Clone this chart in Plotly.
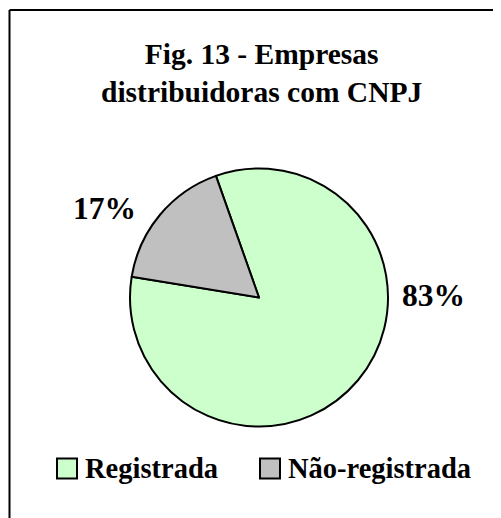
import plotly.graph_objects as go

# Data
labels = ["Registrada", "Não-registrada"]
values = [83, 17]
colors = ["#CCFFCC", "#C0C0C0"]
title_lines = ["Fig. 13 - Empresas", "distribuidoras com CNPJ"]

W, H = 493, 510
FONT = "Liberation Serif"
OFF = 8  # page body margin

cx, cy, r = 259 - OFF, 297.5 - OFF, 129

fig = go.Figure()
fig.add_trace(go.Pie(
    labels=labels,
    values=values,
    sort=False,
    direction="clockwise",
    rotation=-19.5,
    marker=dict(colors=colors, line=dict(color="black", width=2)),
    textinfo="none",
    hoverinfo="label+percent",
    showlegend=False,
    domain=dict(x=[(cx - r) / W, (cx + r) / W], y=[1 - (cy + r) / H, 1 - (cy - r) / H]),
))

total = sum(values)
pct = [f"{round(v / total * 100)}%" for v in values]
label_pos = [(433 - OFF, 296 - OFF - 1), (104 - OFF, 210 - OFF - 1)]
annotations = []
shapes = []
for t, (px, py) in zip(pct, label_pos):
    annotations.append(dict(
        text=f"<b>{t}</b>", x=px / W, y=1 - py / H, xref="paper", yref="paper",
        showarrow=False, xanchor="center", yanchor="middle",
        font=dict(family=FONT, size=31.5, color="black"),
    ))
annotations.append(dict(
    text="<b>" + "<br>".join(title_lines) + "</b>", x=(262 - OFF) / W, y=1 - (73 - OFF - 0.5) / H,
    xref="paper", yref="paper", showarrow=False, xanchor="center", yanchor="middle",
    font=dict(family=FONT, size=29.5, color="black"),
))

# manual legend (swatch + label)
leg_x = [57 - OFF, 260 - OFF]
leg_y = 468.5 - OFF
sw = 20
for lab, col, lx in zip(labels, colors, leg_x):
    shapes.append(dict(type="rect", xref="paper", yref="paper",
                       x0=lx / W, x1=(lx + sw) / W,
                       y0=1 - (leg_y + sw / 2) / H, y1=1 - (leg_y - sw / 2) / H,
                       fillcolor=col, line=dict(color="black", width=2)))
    annotations.append(dict(
        text=f"<b>{lab}</b>", x=(lx + sw + 6) / W, y=1 - (leg_y - 0.5) / H,
        xref="paper", yref="paper", showarrow=False, xanchor="left", yanchor="middle",
        font=dict(family=FONT, size=28.5, color="black"),
    ))

shapes += [
    dict(type="line", xref="paper", yref="paper", x0=(9.5 - OFF) / W, x1=1.0,
         y0=1 - (10 - OFF) / H, y1=1 - (10 - OFF) / H, line=dict(color="black", width=2)),
    dict(type="line", xref="paper", yref="paper", x0=(9.5 - OFF) / W, x1=(9.5 - OFF) / W,
         y0=1 - (10 - OFF) / H, y1=0.0, line=dict(color="black", width=2)),
]

fig.update_layout(
    width=W, height=H,
    margin=dict(l=0, r=0, t=0, b=0),
    paper_bgcolor="white", plot_bgcolor="white",
    showlegend=False,
    annotations=annotations,
    shapes=shapes,
)

fig.write_html("out.html")
